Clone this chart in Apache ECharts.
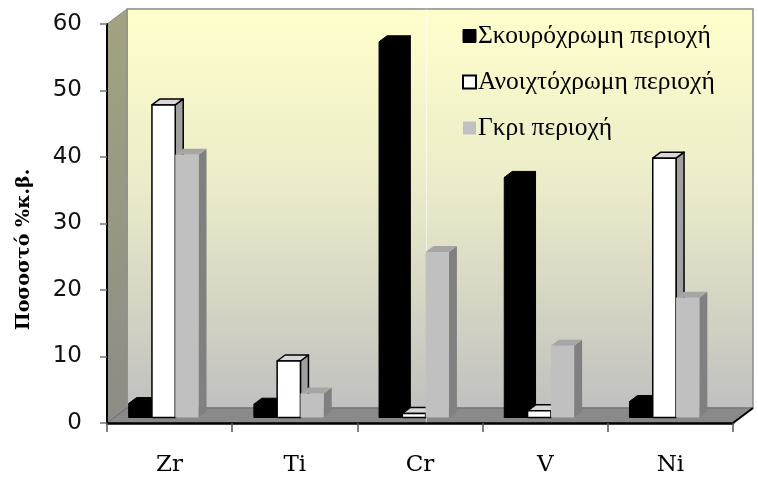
<!DOCTYPE html>
<html>
<head>
<meta charset="utf-8">
<script src="https://cdn.jsdelivr.net/npm/echarts@6/dist/echarts.min.js"></script>
<style>
  html, body { margin: 0; padding: 0; background: #ffffff; }
  #chart { width: 758px; height: 477px; }
</style>
</head>
<body>
<div id="chart"></div>
<script>
// Elements analysed
const categories = ['Zr', 'Ti', 'Cr', 'V', 'Ni'];

// Percentage by weight for each region
const seriesNames = ['Σκουρόχρωμη περιοχή', 'Ανοιχτόχρωμη περιοχή', 'Γκρι περιοχή'];
const darkRegion  = [2.1, 2.0, 56.5, 36.1, 2.4];
const lightRegion = [47.0, 8.5, 0.6, 1.0, 39.0];
const greyRegion  = [39.5, 3.6, 24.9, 10.8, 18.0];

// Value axis ticks
const yTicks = [0, 10, 20, 30, 40, 50, 60];

// Pseudo-3D look
const WALL_DX = 20, WALL_DY = -15;     // depth of the walls / floor
const BAR_DX = 8, BAR_DY = -6;         // depth of each column
const BAR_LIFT = -5.5;                 // columns stand a little back on the floor
const BAR_RATIO = 0.186;               // column width as share of a category
const GROUP_SHIFT = -0.048;            // group offset as share of a category
const LEGEND_EDGE = 0.51;              // faint edge of the legend frame, share of plot width

const palettes = [
  { front: '#000000', top: '#000000', side: '#000000', stroke: '#000000', lw: 1 },
  { front: '#ffffff', top: '#d8d8d8', side: '#a0a0a0', stroke: '#000000', lw: 1.5 },
  { front: '#c0c0c0', top: '#a6a6a6', side: '#808080', stroke: null, lw: 0 }
];

function renderWalls(params, api) {
  const cs = params.coordSys;
  const x0 = cs.x, y0 = cs.y, x1 = cs.x + cs.width, y1 = cs.y + cs.height;
  const dx = WALL_DX, dy = WALL_DY;
  const xe = Math.round(x0 + cs.width * LEGEND_EDGE) + 0.5;
  return {
    type: 'group',
    silent: true,
    children: [
      { // back wall
        type: 'polygon',
        shape: { points: [[x0 + dx, y0 + dy], [x1 + dx, y0 + dy], [x1 + dx, y1 + dy], [x0 + dx, y1 + dy]] },
        style: {
          fill: new echarts.graphic.LinearGradient(0, 0, 0, 1, [
            { offset: 0, color: '#ffffcc' },
            { offset: 0.45, color: '#ebebc9' },
            { offset: 1, color: '#c0c0c0' }
          ]),
          stroke: '#8a8a8a', lineWidth: 1.5
        }
      },
      { // left side wall
        type: 'polygon',
        shape: { points: [[x0, y0], [x0 + dx, y0 + dy], [x0 + dx, y1 + dy], [x0, y1]] },
        style: {
          fill: new echarts.graphic.LinearGradient(0, 0, 0, 1, [
            { offset: 0, color: '#a3a382' },
            { offset: 1, color: '#8c8c86' }
          ]),
          stroke: '#8a8a8a', lineWidth: 1
        }
      },
      { // floor
        type: 'polygon',
        shape: { points: [[x0, y1], [x0 + dx, y1 + dy], [x1 + dx, y1 + dy], [x1, y1]] },
        style: { fill: '#8a8a8a', stroke: '#6e6e6e', lineWidth: 1 }
      },
      { // faint frame edge across the wall
        type: 'line',
        shape: { x1: xe, y1: y0 + dy, x2: xe, y2: y1 },
        style: { stroke: 'rgba(255,255,255,0.55)', lineWidth: 1 }
      },
      { // right edge of the floor
        type: 'line',
        shape: { x1: x1, y1: y1, x2: x1 + dx, y2: y1 + dy },
        style: { stroke: '#000000', lineWidth: 2 }
      }
    ]
  };
}

function renderColumn(params, api) {
  const s = params.seriesIndex - 1;
  const pal = palettes[s];
  const cat = api.value(0);
  const val = api.value(1);
  const base = api.coord([cat, 0]);
  const top = api.coord([cat, val]);
  const catW = api.size([1, 0])[0];
  const w = catW * BAR_RATIO;
  const x0 = base[0] + GROUP_SHIFT * catW - 1.5 * w + s * w;
  const yb = base[1] + BAR_LIFT;
  const yt = top[1] + BAR_LIFT;
  const stroke = pal.stroke;
  const st = (fill) => stroke
    ? { fill: fill, stroke: stroke, lineWidth: pal.lw, lineJoin: 'round' }
    : { fill: fill };
  return {
    type: 'group',
    children: [
      { type: 'polygon', shape: { points: [[x0 + w, yt], [x0 + w + BAR_DX, yt + BAR_DY], [x0 + w + BAR_DX, yb + BAR_DY], [x0 + w, yb]] }, style: st(pal.side) },
      { type: 'polygon', shape: { points: [[x0, yt], [x0 + BAR_DX, yt + BAR_DY], [x0 + w + BAR_DX, yt + BAR_DY], [x0 + w, yt]] }, style: st(pal.top) },
      { type: 'rect', shape: { x: x0, y: yt, width: w, height: yb - yt }, style: st(pal.front) }
    ]
  };
}

const columnData = [darkRegion, lightRegion, greyRegion];

const chart = echarts.init(document.getElementById('chart'), null, { renderer: 'canvas' });

chart.setOption({
  backgroundColor: '#ffffff',
  animation: false,
  grid: { left: 107, right: 25, top: 24, bottom: 52 },
  legend: {
    orient: 'vertical',
    left: 457,
    top: 18,
    itemWidth: 13,
    itemHeight: 13,
    itemGap: 20,
    icon: 'rect',
    textStyle: { fontFamily: 'Liberation Serif', fontSize: 25.5, color: '#000000', padding: [0, 0, 0, -3] },
    data: [
      { name: seriesNames[0], itemStyle: { color: '#000000', borderColor: '#000000', borderWidth: 1 } },
      { name: seriesNames[1], itemStyle: { color: '#ffffff', borderColor: '#000000', borderWidth: 2 } },
      { name: seriesNames[2], itemStyle: { color: '#c0c0c0', borderWidth: 0 } }
    ]
  },
  xAxis: {
    type: 'category',
    data: categories,
    z: 5,
    axisLine: { lineStyle: { color: '#000000', width: 2.5 } },
    axisTick: { show: true, length: 9, lineStyle: { color: '#555555', width: 1.5 } },
    axisLabel: { fontFamily: 'DejaVu Serif', fontSize: 23, color: '#000000', margin: 31 },
    splitLine: { show: false }
  },
  yAxis: {
    type: 'value',
    min: yTicks[0],
    max: yTicks[yTicks.length - 1],
    interval: 10,
    z: 5,
    name: 'Ποσοστό %κ.β.',
    nameLocation: 'middle',
    nameRotate: 90,
    nameGap: 73,
    nameTextStyle: {
      fontFamily: 'DejaVu Serif', fontWeight: 'bold', fontSize: 19, color: '#000000',
      padding: [0, 52, 0, 0]
    },
    axisLine: { show: true, lineStyle: { color: '#000000', width: 2 } },
    axisTick: { show: true, length: 7, lineStyle: { color: '#777777', width: 1.5 } },
    axisLabel: { fontFamily: 'DejaVu Sans', fontSize: 23, color: '#111111', margin: 25 },
    splitLine: { show: false }
  },
  series: [
    {
      type: 'custom',
      name: '__walls',
      silent: true,
      z: 1,
      renderItem: renderWalls,
      data: [[0, 0]]
    }
  ].concat(columnData.map((vals, i) => ({
    type: 'custom',
    name: seriesNames[i],
    z: 3,
    itemStyle: { color: palettes[i].front },
    encode: { x: 0, y: 1 },
    renderItem: renderColumn,
    data: vals.map((v, k) => [k, v])
  })))
});
</script>
</body>
</html>
